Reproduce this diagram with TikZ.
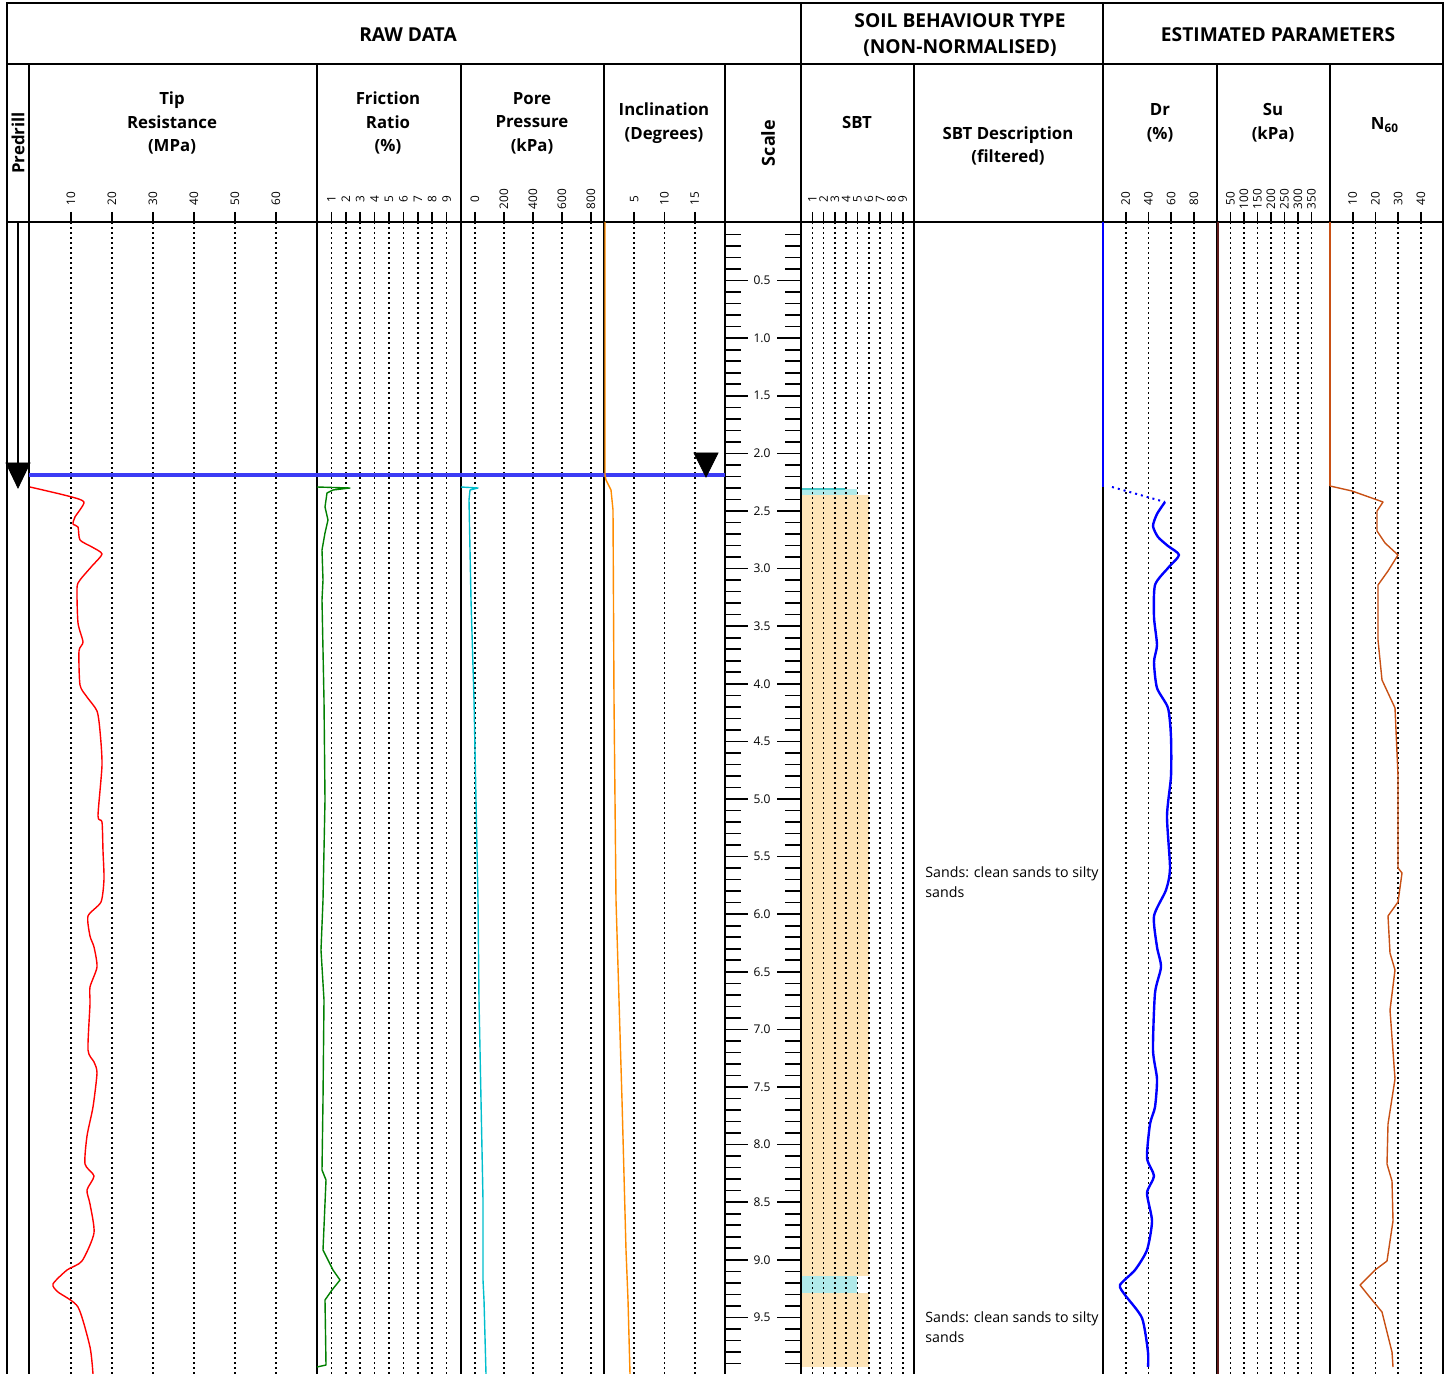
\documentclass[tikz,border=0pt]{standalone}
\usepackage{fontspec}
\setmainfont{Open Sans}
\usepackage{tikz}
\usetikzlibrary{arrows.meta}
\definecolor{qcred}{RGB}{255,0,0}
\definecolor{frgreen}{RGB}{0,128,0}
\definecolor{ucyan}{RGB}{0,190,205}
\definecolor{incorange}{RGB}{255,140,0}
\definecolor{drblue}{RGB}{0,0,255}
\definecolor{subrown}{RGB}{95,25,25}
\definecolor{nrust}{RGB}{200,80,20}
\definecolor{waterblue}{RGB}{60,60,245}
\definecolor{sbtsand}{RGB}{253,228,184}
\definecolor{sbtcyan}{RGB}{176,234,234}
\definecolor{sbtteal}{RGB}{70,200,200}
\newcommand{\gridcol}[4]{%
  \foreach \v in {#4} {
    \draw[gridline] ({#2+#3*\v},222) -- ({#2+#3*\v},1374);
    \draw[tickline] ({#2+#3*\v},212) -- ({#2+#3*\v},222);
    \node[ticklabel] (#1\v) at ({#2+#3*\v},199) {\v};
  }}

\begin{document}
\begin{tikzpicture}[x=0.5pt,y=-0.5pt,
  frame/.style={line width=1pt,black},
  gridline/.style={line width=0.8pt,dash pattern=on 0.8pt off 1.7pt},
  tickline/.style={line width=0.8pt},
  ticklabel/.style={font=\fontsize{5.9}{6.5}\selectfont,rotate=90,inner sep=0pt},
  scalelabel/.style={font=\fontsize{6}{7}\selectfont,inner sep=0pt},
  head/.style={font=\fontsize{9.6}{13}\selectfont\bfseries,align=center},
  colhead/.style={font=\fontsize{8.4}{11.75}\selectfont\bfseries,align=center},
  desc/.style={font=\fontsize{7.1}{10}\selectfont,align=left,anchor=north west,inner sep=0pt},
  curve/.style={line width=0.7pt,line join=round},
  marker/.style={fill=black,draw=black}]
\useasboundingbox (0,0) rectangle (1451,1374);

% soil behaviour type bands
\fill[sbtcyan] (801,489) rectangle (857,495);
\draw[sbtteal,line width=1pt] (801,489) -- (845,489);
\fill[sbtsand] (801,495) rectangle (869,1276);
\fill[sbtcyan] (801,1276) rectangle (857,1293);
\fill[sbtsand] (801,1293) rectangle (869,1367);

\gridcol{tip}{30}{4.1}{10,20,...,60}
\gridcol{fr}{317}{14.4}{1,...,9}
\gridcol{u}{475}{0.145}{0,200,...,800}
\gridcol{inc}{604}{6.05}{5,10,15}
\gridcol{sbt}{801}{11.3}{1,...,9}
\gridcol{dr}{1103}{1.135}{20,40,...,80}
\gridcol{su}{1217}{0.27}{50,100,...,350}
\gridcol{n}{1330}{2.27}{10,20,30,40}

% depth scale
\foreach \i in {1,...,99} {
  \draw[tickline] (725,{223+11.52*\i}) -- +(16,0);
  \draw[tickline] (801,{223+11.52*\i}) -- +(-16,0);
}
\foreach \i in {5,10,...,95} {
  \pgfmathtruncatemacro\dm{\i/10}
  \pgfmathtruncatemacro\dd{mod(\i,10)}
  \draw[tickline] (725,{223+11.52*\i}) -- +(23,0);
  \draw[tickline] (801,{223+11.52*\i}) -- +(-24,0);
  \node[scalelabel] (d\i) at (762,{223+11.52*\i}) {\dm.\dd};
}

% frame
\draw[frame] (7,1374) -- (7,3) -- (1443,3) -- (1443,1374);
\draw[frame] (7,64) -- (1443,64);
\draw[frame] (7,222) -- (1443,222);
\foreach \x in {801,1103} \draw[frame] (\x,3) -- (\x,64);
\foreach \x in {29,317,461,604,725,801,914,1103,1217,1330} \draw[frame] (\x,64) -- (\x,1374);

\node[head] (raw) at (408,35) {RAW DATA};
\node[head] (sbthead) at (960,35) {SOIL BEHAVIOUR TYPE\\(NON-NORMALISED)};
\node[head] (est) at (1278,35) {ESTIMATED PARAMETERS};

\node[colhead,rotate=90] (predrill) at (18,143) {Predrill};
\node[colhead] (tip) at (172,123) {Tip\\Resistance\\(MPa)};
\node[colhead] (fric) at (388,123) {Friction\\Ratio\\(\%)};
\node[colhead] (pore) at (532,123) {Pore\\Pressure\\(kPa)};
\node[colhead] (incl) at (664,123) {Inclination\\(Degrees)};
\node[colhead,rotate=90,font=\fontsize{9}{11}\selectfont\bfseries] (scale) at (768,143) {Scale};
\node[colhead] (sbt) at (857,123) {SBT};
\node[colhead] (sbtdesc) at (1008,146) {SBT Description\\(filtered)};
\node[colhead] (dr) at (1160,123) {Dr\\(\%)};
\node[colhead] (su) at (1273,123) {Su\\(kPa)};
\node[colhead] (n60) at (1385,125) {N\textsubscript{60}};

\node[desc] (desc1) at (925,866) {Sands: clean sands to silty\\sands};
\node[desc] (desc2) at (925,1311) {Sands: clean sands to silty\\sands};

% predrill and water level
\draw[line width=1pt] (18,222) -- (18,463);
\draw[marker] (6,463) -- (30,463) -- (18,488) -- cycle;
\draw[waterblue,line width=2.4pt] (29,475) -- (725,475);
\draw[marker] (694,453) -- (718,453) -- (706,477) -- cycle;

% raw data
\draw[curve,qcred] plot[smooth,tension=0.4] coordinates {(30,487) (68,496) (84,502) (75,517) (73,524) (78,527) (80,540) (92,547) (102,554) (92,566) (80,580) (77,588) (78,623) (83,642) (79,651) (80,685) (87,697) (97,711) (100,731) (102,765) (98,816) (102,822) (103,851) (104,879) (101,902) (88,916) (90,936) (94,947) (97,967) (90,987) (90,1004) (88,1050) (94,1062) (97,1073) (93,1107) (87,1136) (85,1164) (94,1176) (87,1190) (90,1204) (94,1233) (82,1261) (67,1270) (53,1284) (58,1292) (78,1307) (90,1347) (93,1374)};
\draw[curve,frgreen] plot[tension=0.4] coordinates {(317,487) (350,488) (333,490) (327,493) (325,507) (328,520) (325,533) (322,550) (323,580) (322,600) (324,700) (325,800) (323,900) (321,950) (324,1000) (323,1100) (322,1170) (326,1180) (323,1250) (333,1270) (340,1280) (332,1290) (325,1300) (326,1365) (317,1367)};
\draw[curve,ucyan] plot coordinates {(461,487) (478,488) (470,490) (469,500) (471,600) (474,700) (476,800) (478,900) (479,1000) (481,1100) (483,1200) (483,1280) (484,1300) (486,1374)};
\draw[curve,incorange] plot coordinates {(605,222) (605,475) (606,480) (611,490) (613,510) (614,700) (616,900) (619,1000) (622,1100) (626,1250) (628,1300) (630,1374)};

% estimated parameters
\draw[drblue,line width=1pt] (1103,222) -- (1103,487);
\draw[drblue,line width=1pt,dotted] (1112,487) -- (1165,502);
\draw[drblue,line width=1.2pt,line join=round] plot[smooth,tension=0.4] coordinates {(1165,502) (1157,514) (1153,526) (1158,537) (1168,546) (1179,555) (1168,568) (1155,585) (1154,617) (1157,645) (1154,662) (1157,688) (1168,708) (1171,737) (1171,776) (1167,816) (1170,868) (1166,890) (1154,916) (1157,947) (1161,967) (1155,993) (1153,1050) (1157,1079) (1155,1107) (1150,1124) (1147,1158) (1154,1176) (1147,1193) (1152,1221) (1147,1250) (1135,1270) (1120,1285) (1125,1295) (1142,1318) (1148,1352) (1148,1367)};
\draw[subrown,line width=1.4pt] (1218,222) -- (1218,1374);
\draw[nrust,line width=0.8pt] (1330,222) -- (1330,486);
\draw[curve,nrust] plot coordinates {(1330,486) (1352,491) (1383,502) (1377,511) (1377,531) (1385,543) (1398,555) (1388,571) (1378,585) (1378,640) (1382,680) (1395,708) (1398,776) (1398,868) (1402,873) (1398,902) (1388,916) (1390,953) (1395,970) (1390,1010) (1395,1079) (1388,1124) (1387,1164) (1392,1181) (1393,1221) (1387,1261) (1375,1270) (1360,1285) (1368,1295) (1382,1312) (1392,1352) (1393,1367)};
\end{tikzpicture}
\end{document}
